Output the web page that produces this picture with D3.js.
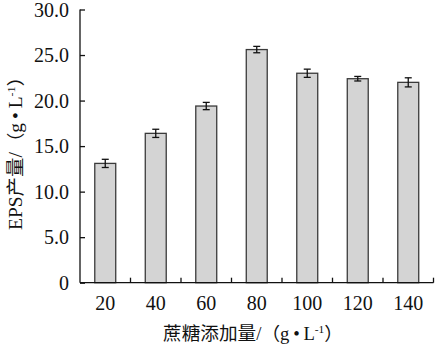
<!DOCTYPE html>
<html><head><meta charset="utf-8">
<script src="https://cdn.jsdelivr.net/npm/d3@7"></script>
<style>body{margin:0;background:#fff}svg{display:block}</style>
</head><body>
<script>
const categories = ["20","40","60","80","100","120","140"];
const values = [13.1, 16.4, 19.4, 25.6, 23.0, 22.4, 22.0];
const errors = [0.45, 0.45, 0.4, 0.35, 0.45, 0.25, 0.5];
const yTicks = [0, 5, 10, 15, 20, 25, 30];
const yTickLabels = ["0","5.0","10.0","15.0","20.0","25.0","30.0"];

const W = 435, H = 349;
const L = 80, R = 433.5, T = 9.5, B = 282.7;
const serif = "'Liberation Serif','Times New Roman',serif";
const cjk = "'Noto Sans CJK SC','Noto Sans CJK JP',sans-serif";

const svg = d3.select("body").append("svg").attr("width", W).attr("height", H);

const x = d3.scaleBand().domain(categories).range([L, R]).paddingInner(0.585).paddingOuter(0.2925);
const y = d3.scaleLinear().domain([0, 30]).range([B, T]);

// bars
svg.selectAll("rect.bar").data(categories).enter().append("rect")
  .attr("x", d => x(d)).attr("width", x.bandwidth())
  .attr("y", (d,i) => y(values[i])).attr("height", (d,i) => y(0) - y(values[i]))
  .attr("fill", "#d4d4d4").attr("stroke", "#3a3a3a").attr("stroke-width", 1.3);

// error bars
const eg = svg.append("g").attr("stroke", "#111").attr("stroke-width", 1.3);
categories.forEach((c, i) => {
  const cx = x(c) + x.bandwidth()/2;
  const y1 = y(values[i] + errors[i]), y2 = y(values[i] - errors[i]);
  eg.append("line").attr("x1", cx).attr("x2", cx).attr("y1", y1).attr("y2", y2);
  eg.append("line").attr("x1", cx-3.5).attr("x2", cx+3.5).attr("y1", y1).attr("y2", y1);
  eg.append("line").attr("x1", cx-3.5).attr("x2", cx+3.5).attr("y1", y2).attr("y2", y2);
});

// y axis
const yAxis = svg.append("g").attr("transform", `translate(${L},0)`)
  .call(d3.axisRight(y).tickValues(yTicks).tickSize(5).tickFormat(""));
yAxis.select(".domain").attr("d", `M0,${T}V${B}`).attr("stroke", "#111").attr("stroke-width", 1.3);
yAxis.selectAll(".tick line").attr("stroke", "#111").attr("stroke-width", 1.3);
svg.append("g").selectAll("text").data(yTicks).enter().append("text")
  .attr("x", 69).attr("y", d => y(d)).attr("dy", "0.35em")
  .attr("text-anchor", "end").attr("font-family", serif).attr("font-size", 20).attr("fill", "#111")
  .text((d,i) => yTickLabels[i]);

// x axis
const edges = d3.range(categories.length + 1).map(i => L + i * x.step());
const xg = svg.append("g").attr("stroke", "#111").attr("stroke-width", 1.3);
xg.append("line").attr("x1", L).attr("x2", R).attr("y1", B).attr("y2", B);
edges.slice(1).forEach(e => {
  xg.append("line").attr("x1", e).attr("x2", e).attr("y1", B).attr("y2", B - 5);
});
svg.append("g").selectAll("text").data(categories).enter().append("text")
  .attr("x", d => x(d) + x.bandwidth()/2).attr("y", 310)
  .attr("text-anchor", "middle").attr("font-family", serif).attr("font-size", 20).attr("fill", "#111")
  .text(d => d);

function title(sel, cjkText) {
  sel.append("tspan").attr("font-family", cjk).text(cjkText);
  sel.append("tspan").text("/");
  sel.append("tspan").attr("font-family", cjk).text("（");
  sel.append("tspan").text("g\u2009•\u2009L");
  sel.append("tspan").attr("dy", -7).attr("font-size", 11).text("-1");
  sel.append("tspan").attr("dy", 7).attr("font-family", cjk).text("）");
}

// x title
const xt = svg.append("text").attr("x", 163).attr("y", 340)
  .attr("font-family", serif).attr("font-size", 18).attr("fill", "#111")
  .attr("textLength", 180).attr("lengthAdjust", "spacingAndGlyphs");
title(xt, "蔗糖添加量");

// y title
const yt = svg.append("text").attr("transform", "translate(22,230) rotate(-90)")
  .attr("font-family", serif).attr("font-size", 18).attr("fill", "#111")
  .attr("textLength", 163).attr("lengthAdjust", "spacingAndGlyphs");
yt.append("tspan").text("EPS");
title(yt, "产量");
</script>
</body></html>
